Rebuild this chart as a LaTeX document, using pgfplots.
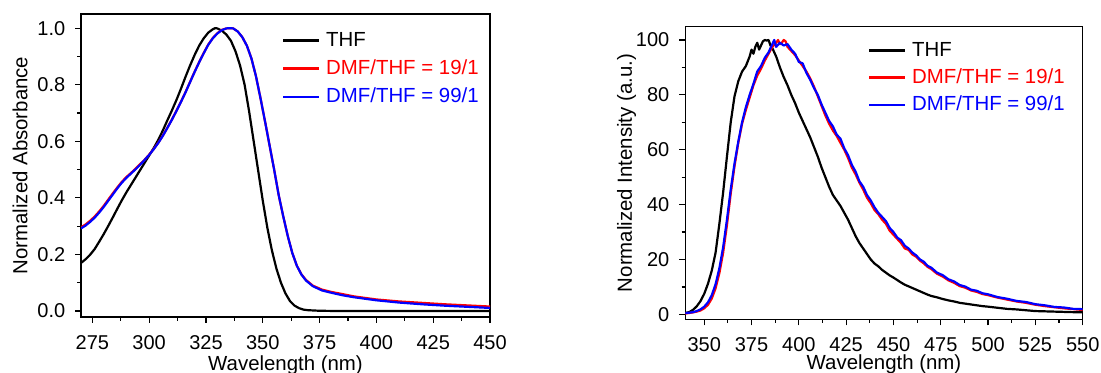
\documentclass[border=0pt]{standalone}
\usepackage{pgfplots}
\pgfplotsset{compat=1.18}
\usepackage{fontspec}
\setmainfont{Liberation Sans}
\pgfplotsset{
 mystyle/.style={
  scale only axis,
  axis line style={line width=0.6pt},
  tick align=outside, tick pos=left,
  major tick length=3pt, minor tick length=1.8pt,
  every tick/.style={black, line width=0.6pt},
  /pgf/number format/assume math mode=true,
  tick label style={font=\fontsize{10}{12}\selectfont},
  label style={font=\fontsize{10.2}{12}\selectfont},
  xticklabel style={anchor=base, yshift=-13.2pt},
  yticklabel style={anchor=east, inner sep=0pt, xshift=-4.7pt},
  minor x tick num=1, minor y tick num=1,
  legend cell align=left,
  legend image code/.code={\draw[##1, line width=1.1pt] (0pt,0pt) -- (18pt,0pt);},
  legend style={draw=none, fill=none, inner sep=0pt, outer sep=0pt, column sep=3pt,
    font=\fontsize{10.2}{12}\selectfont, nodes={inner sep=0pt}, anchor=north west},
  every axis plot/.append style={line join=round},
 }
}
\begin{document}
\begin{tikzpicture}
\useasboundingbox (0,0) rectangle (550.5pt,186.5pt);
\begin{axis}[mystyle,
  at={(40.5pt,28pt)}, anchor=south west,
  width=204.5pt, height=151.5pt,
  xmin=270, xmax=450, ymin=-0.021, ymax=1.05,
  xtick={275,300,325,350,375,400,425,450},
  ytick={0,0.2,0.4,0.6,0.8,1.0},
  yticklabel style={/pgf/number format/.cd, fixed, fixed zerofill, precision=1},
  xlabel={Wavelength (nm)}, ylabel={Normalized Absorbance},
  xlabel style={at={(axis description cs:0.5,0)}, anchor=base, yshift=-26.65pt},
  ylabel style={at={(axis description cs:-0.149,0.5)}, anchor=center, rotate=0},
  legend style={at={(axis description cs:0.4914,0.9406)}, row sep=5.25pt},
]
\addplot[black, line width=1.1pt] table {
270 0.170
272 0.183
274 0.199
276 0.219
278 0.245
280 0.272
282 0.301
284 0.331
286 0.362
288 0.392
290 0.420
292 0.446
294 0.472
296 0.498
298 0.524
300 0.550
302 0.576
304 0.605
306 0.638
308 0.674
310 0.709
312 0.746
314 0.786
316 0.828
318 0.868
320 0.905
322 0.938
324 0.964
326 0.984
328 0.996
329 1.000
330 0.999
332 0.991
334 0.977
336 0.955
338 0.918
340 0.868
342 0.800
344 0.705
346 0.600
348 0.495
350 0.390
352 0.295
354 0.215
356 0.150
358 0.100
360 0.062
362 0.035
364 0.019
366 0.010
368 0.005
370 0.003
375 0.001
380 0.0005
400 0.0
450 0.0
};
\addlegendentry{THF}
\addplot[red, line width=1.1pt] table {
270 0.296
272 0.306
274 0.319
276 0.334
278 0.352
280 0.372
282 0.394
284 0.416
286 0.437
288 0.457
290 0.474
292 0.488
294 0.503
296 0.519
298 0.535
300 0.553
302 0.573
304 0.595
306 0.620
308 0.648
310 0.677
312 0.708
314 0.740
316 0.774
318 0.810
320 0.846
322 0.880
324 0.912
326 0.942
328 0.965
330 0.982
332 0.994
334 0.999
335.5 1.000
337 0.999
339 0.988
341 0.968
343 0.938
345 0.893
347 0.830
349 0.752
351 0.670
353 0.585
355 0.500
357 0.410
359 0.335
361 0.265
363 0.205
365 0.160
367 0.130
369 0.110
372 0.090
376 0.076
380 0.068
385 0.060
390 0.052
400 0.041
410 0.034
420 0.029
430 0.024
440 0.020
450 0.016
};
\addlegendentry{\textcolor{red}{DMF/THF = 19/1}}
\addplot[blue, line width=1.1pt] table {
270 0.292
272 0.302
274 0.315
276 0.330
278 0.348
280 0.368
282 0.390
284 0.412
286 0.434
288 0.454
290 0.471
292 0.486
294 0.501
296 0.517
298 0.534
300 0.552
302 0.572
304 0.594
306 0.619
308 0.647
310 0.676
312 0.707
314 0.739
316 0.773
318 0.809
320 0.845
322 0.879
324 0.911
326 0.941
328 0.964
330 0.981
332 0.993
334 0.999
335.5 1.000
337 0.999
339 0.988
341 0.968
343 0.938
345 0.893
347 0.830
349 0.752
351 0.670
353 0.585
355 0.500
357 0.410
359 0.335
361 0.265
363 0.205
365 0.160
367 0.129
369 0.108
372 0.088
376 0.073
380 0.065
385 0.056
390 0.049
400 0.038
410 0.030
420 0.024
430 0.019
440 0.015
450 0.011
};
\addlegendentry{\textcolor{blue}{DMF/THF = 99/1}}
\end{axis}

\begin{axis}[mystyle,
  at={(342.65pt,26.85pt)}, anchor=south west,
  width=198.7pt, height=146.3pt,
  xmin=340, xmax=550, ymin=-1.8, ymax=104.85,
  xtick={350,375,400,425,450,475,500,525,550},
  ytick={0,20,40,60,80,100},
  yticklabel style={xshift=-0.1pt},
  xlabel={Wavelength (nm)}, ylabel={Normalized Intensity (a.u.)},
  xlabel style={at={(axis description cs:0.5,0)}, anchor=base, yshift=-25pt},
  ylabel style={at={(axis description cs:-0.148,0.5)}, anchor=center, rotate=0},
  legend style={at={(axis description cs:0.4597,0.9477)}, row sep=4.75pt},
]
\addplot[black, line width=1.1pt] table {
340 0.5
342 0.8
344 1.6
346 2.9
348 4.8
350 7.5
352 11.2
354 16.0
356 22.5
358 33.0
360 44.5
362 57.5
364 70.0
366 79.5
368 85.0
370 88.5
372 90.5
374 94.0
375 96.5
376 95.0
377 97.5
378 99.0
379 96.5
380 98.0
381 99.5
382 100.0
383 99.8
384 100.0
385 98.0
386 97.0
387 95.5
388 94.0
390 90.0
392 86.5
394 83.5
396 80.0
398 77.0
400 73.5
402 70.5
404 67.5
406 64.5
408 61.0
410 57.5
412 53.5
414 50.0
416 46.5
418 43.5
420 41.5
422 39.5
424 37.0
426 34.5
428 31.5
430 28.5
432 26.0
434 24.0
436 22.0
438 20.0
440 18.5
442 17.5
444 16.2
446 15.2
448 14.2
450 13.4
452 12.5
454 11.6
456 10.8
458 10.2
460 9.6
462 9.0
464 8.4
466 7.8
468 7.2
470 6.7
473 6.2
476 5.6
479 5.1
482 4.7
485 4.2
488 3.9
491 3.6
494 3.3
497 3.0
500 2.8
505 2.4
510 2.0
515 1.8
520 1.5
525 1.2
530 1.1
535 1.0
540 0.9
545 0.8
550 0.8
};
\addlegendentry{THF}
\addplot[red, line width=1.1pt] table {
340 0.3
342 0.5
344 0.7
346 1.0
348 1.4
350 2.2
352 3.5
354 5.8
356 9.5
358 15.0
360 22.5
362 32.5
364 44.0
366 54.0
368 62.5
370 69.5
372 74.5
374 79.0
376 83.5
378 87.0
380 89.5
382 92.5
384 95.0
386 97.5
388 99.0
389 100.0
390 98.5
391 99.0
392 100.0
393 99.5
394 97.5
396 96.0
398 94.5
400 92.5
402 90.5
404 88.5
406 86.0
408 83.0
410 79.5
412 76.0
414 72.5
416 69.5
418 67.0
420 65.0
422 62.5
424 60.0
426 57.0
428 53.5
430 51.0
432 48.0
434 45.5
436 42.5
438 40.5
440 38.0
442 36.5
444 34.5
446 33.0
448 30.5
450 29.0
452 27.5
454 26.0
456 24.0
458 23.5
460 21.8
462 21.0
464 19.6
466 18.6
468 17.3
470 16.5
473 14.8
476 13.8
479 12.4
482 11.5
485 10.3
488 9.7
491 8.7
494 8.2
497 7.4
500 7.0
505 6.1
510 5.4
515 4.7
520 4.2
525 3.5
530 3.0
535 2.6
540 2.2
545 1.9
550 1.6
};
\addlegendentry{\textcolor{red}{DMF/THF = 19/1}}
\addplot[blue, line width=1.1pt] table {
340 0.5
342 0.6
344 0.8
346 1.2
348 1.8
350 2.8
352 4.4
354 7.0
356 11.0
358 16.8
360 24.5
362 34.5
364 45.5
366 55.0
368 63.0
370 70.0
372 75.5
374 80.0
376 84.0
378 88.5
380 90.5
382 93.5
384 95.5
386 98.5
387 100.0
388 97.5
390 99.0
392 98.0
394 98.5
396 96.5
398 95.0
400 92.0
402 91.5
404 88.0
406 85.5
408 82.5
410 80.0
412 76.5
414 73.5
416 70.5
418 68.5
420 65.5
422 64.0
424 60.5
426 58.0
428 54.5
430 52.0
432 48.5
434 46.5
436 43.5
438 41.5
440 39.0
442 37.0
444 35.5
446 34.0
448 31.5
450 30.0
452 28.0
454 27.0
456 25.0
458 24.0
460 22.5
462 21.5
464 20.0
466 19.2
468 17.7
470 17.0
473 15.2
476 14.3
479 12.8
482 12.0
485 10.7
488 10.1
491 9.0
494 8.6
497 7.7
500 7.3
505 6.3
510 5.7
515 4.9
520 4.5
525 3.7
530 3.3
535 2.7
540 2.5
545 2.0
550 1.9
};
\addlegendentry{\textcolor{blue}{DMF/THF = 99/1}}
\end{axis}
\end{tikzpicture}
\end{document}
